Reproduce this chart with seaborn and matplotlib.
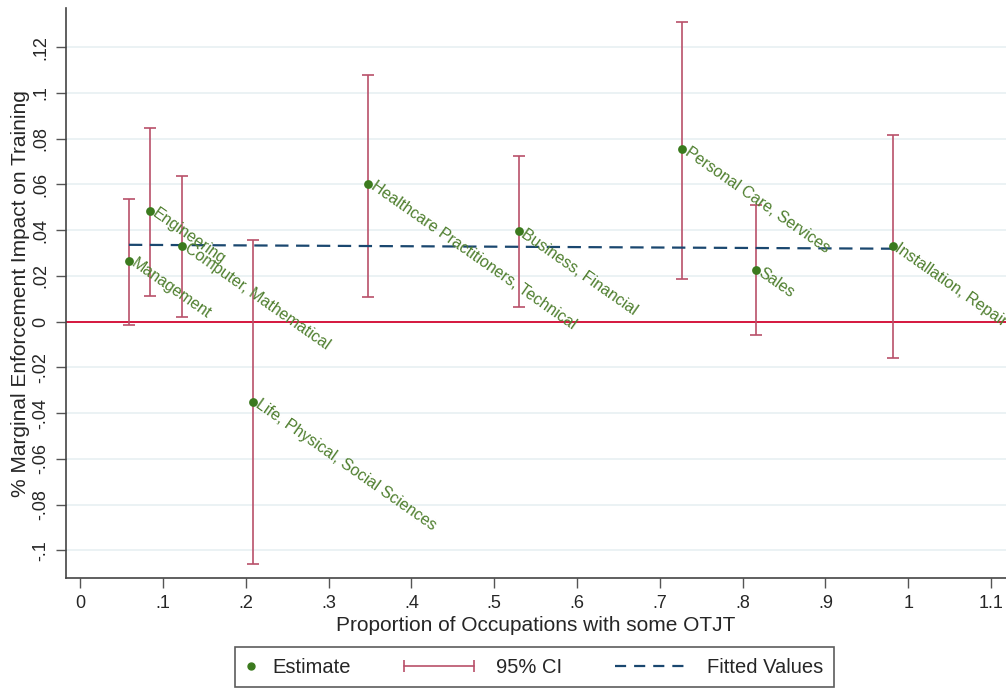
import matplotlib
matplotlib.use("Agg")
import matplotlib.pyplot as plt
import seaborn as sns
import pandas as pd
from matplotlib.lines import Line2D
from matplotlib.legend_handler import HandlerLine2D

occupations = ["Management", "Engineering", "Computer, Mathematical",
               "Life, Physical, Social Sciences", "Healthcare Practitioners, Technical",
               "Business, Financial", "Personal Care, Services", "Sales",
               "Installation, Repair"]
otjt_share = [0.059, 0.0845, 0.123, 0.209, 0.348, 0.530, 0.727, 0.816, 0.981]
estimate = [0.0266, 0.0485, 0.0332, -0.0350, 0.0603, 0.0397, 0.0755, 0.0227, 0.0332]
ci_low = [-0.0013, 0.0114, 0.0022, -0.1060, 0.0110, 0.0066, 0.0188, -0.0060, -0.0157]
ci_high = [0.0537, 0.0847, 0.0638, 0.0358, 0.1080, 0.0725, 0.1310, 0.0510, 0.0817]
fit_x = [0.059, 0.981]
fit_y = [0.0336, 0.0319]
xticks = [0, 0.1, 0.2, 0.3, 0.4, 0.5, 0.6, 0.7, 0.8, 0.9, 1.0, 1.1]
xtick_labels = ["0", ".1", ".2", ".3", ".4", ".5", ".6", ".7", ".8", ".9", "1", "1.1"]
yticks = [-0.1, -0.08, -0.06, -0.04, -0.02, 0, 0.02, 0.04, 0.06, 0.08, 0.1, 0.12]
ytick_labels = ["-.1", "-.08", "-.06", "-.04", "-.02", "0", ".02", ".04", ".06", ".08", ".1", ".12"]
legend_labels = ["Estimate", "95% CI", "Fitted Values"]

sns.set_style("white")
plt.rcParams['font.family'] = ['Liberation Sans', 'DejaVu Sans']

GREEN = "#3b7a1e"
LABEL_GREEN = "#4f7f2f"
CI_COL = "#b9506a"
ZERO_COL = "#d6173f"
NAVY = "#1a476f"

df = pd.DataFrame({"occ": occupations, "x": otjt_share, "y": estimate,
                   "lo": ci_low, "hi": ci_high})
fit = pd.DataFrame({"x": fit_x, "y": fit_y})

fig = plt.figure(figsize=(10.06, 6.88), dpi=100)
ax = fig.add_axes([0.0656, 0.160, 0.9344, 0.828])

for t in yticks:
    ax.axhline(t, color="#e8f0f2", lw=1.2, zorder=0)
ax.axhline(0, color=ZERO_COL, lw=1.4, zorder=1)

ax.errorbar(df["x"], (df["lo"] + df["hi"]) / 2,
            yerr=(df["hi"] - df["lo"]) / 2, fmt="none",
            ecolor=CI_COL, elinewidth=1.2, capsize=4, capthick=1.2, zorder=2)
sns.lineplot(data=fit, x="x", y="y", ax=ax, color=NAVY, lw=1.6,
             zorder=3, legend=False)
ax.lines[-1].set_dashes((6, 3.4))
sns.scatterplot(data=df, x="x", y="y", ax=ax, color=GREEN, s=40,
                edgecolor=GREEN, linewidth=0, zorder=4, legend=False)

for _, r in df.iterrows():
    ax.annotate(r["occ"], (r["x"], r["y"]), xytext=(3, -1),
                textcoords="offset points", rotation=-35,
                rotation_mode="anchor", ha="left", va="center",
                fontsize=11.5, color=LABEL_GREEN, zorder=5, clip_on=False)

ax.set_xlim(-0.017, 1.118)
ax.set_ylim(-0.112, 0.137)
ax.set_xticks(xticks)
ax.set_xticklabels(xtick_labels, fontsize=13)
ax.set_yticks(yticks)
ax.set_yticklabels(ytick_labels, fontsize=13, rotation=90, va="center")
ax.tick_params(axis="both", length=7, width=1, color="#555555",
               bottom=True, left=True, pad=5)
ax.set_xlabel("Proportion of Occupations with some OTJT", fontsize=15, labelpad=3)
ax.set_ylabel("% Marginal Enforcement Impact on Training", fontsize=15, labelpad=1.5)
for s in ["top", "right"]:
    ax.spines[s].set_visible(False)
for s in ["left", "bottom"]:
    ax.spines[s].set_color("#444444")
    ax.spines[s].set_linewidth(1.2)


class HandlerWide(HandlerLine2D):
    """Draw the handle extending further left than the allotted handle box."""
    def __init__(self, extra, **kw):
        super().__init__(**kw)
        self.extra = extra

    def create_artists(self, legend, orig_handle, xdescent, ydescent,
                       width, height, fontsize, trans):
        return super().create_artists(legend, orig_handle, xdescent + self.extra,
                                      ydescent, width + self.extra, height,
                                      fontsize, trans)


LFS = 14.5
h_est = Line2D([], [], ls="none", marker="o", color=GREEN, markersize=5)
h_ci = Line2D([0, 1], [0, 0], color=CI_COL, lw=1.2, marker="|",
              markersize=8, markeredgewidth=1.2)
h_fit = Line2D([], [], color=NAVY, lw=1.6, dashes=(5, 3.6))
px2pt = 72 / 100
leg = fig.legend([h_est, h_ci, h_fit], legend_labels,
                 loc="lower center", bbox_to_anchor=(0.531, 0.002), ncol=3,
                 fontsize=LFS, frameon=True, fancybox=False, edgecolor="#333333",
                 handlelength=0.6, columnspacing=5.8, handletextpad=0.8,
                 borderpad=0.5, numpoints=2, borderaxespad=0.0,
                 handler_map={h_est: HandlerLine2D(numpoints=1),
                              h_ci: HandlerWide(70 * px2pt, numpoints=2),
                              h_fit: HandlerWide(64 * px2pt, numpoints=1)})
leg.get_frame().set_linewidth(1.2)

fig.savefig("out.png", dpi=100, facecolor="white")
